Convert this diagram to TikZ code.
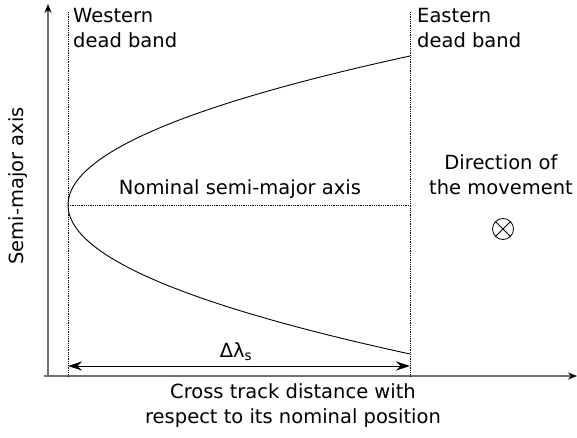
\documentclass[tikz,border=0pt]{standalone}
\usepackage{fontspec}
\setmainfont{DejaVu Sans}
\usepackage{xcolor}
\usepackage{tikz}
\usetikzlibrary{arrows.meta,positioning,calc}
\definecolor{axisgray}{HTML}{707070}
\tikzset{
  axisline/.style={draw=axisgray,line width=1.6pt,-{Stealth[length=9pt,width=7pt,color=black]}},
  bandline/.style={draw=black,densely dotted,line width=0.8pt},
  orbitline/.style={draw=black,line width=0.9pt},
  spanarrow/.style={draw=black,line width=1pt,{Stealth[length=14pt,width=9pt]}-{Stealth[length=14pt,width=9pt]}},
  plainlabel/.style={font=\fontsize{19.5}{25}\selectfont,inner sep=0pt,align=center}
}
\begin{document}
\begin{tikzpicture}[x=1pt,y=-1pt]
\useasboundingbox (0,0) rectangle (577,438);
% axes
\coordinate (orig) at (48,376);
\coordinate (ytop) at (48,4);
\coordinate (xstart) at (44,376);
\coordinate (xend) at (577,376);
\draw[axisline] (orig) -- (ytop);
\draw[axisline] (xstart) -- (xend);
% dead band limits
\coordinate (wtop) at (68,12);
\coordinate (wbot) at (68,376);
\coordinate (etop) at (410,12);
\coordinate (ebot) at (410,376);
\draw[bandline] (wtop) -- (wbot);
\draw[bandline] (etop) -- (ebot);
% semi-major axis evolution
\coordinate (vertex) at (68,205);
\coordinate (nomend) at (410,205);
\draw[orbitline] plot[domain=-149:149,samples=80,smooth] ({68+342*(\x/149)*(\x/149)},{205+\x});
\draw[bandline] (vertex) -- (nomend);
\node[plainlabel,anchor=base] (nomlabel) at (240,195) {Nominal semi-major axis};
% drift span
\coordinate (spanw) at (68,366);
\coordinate (spane) at (410,366);
\draw[spanarrow] (spanw) -- (spane);
\node[plainlabel,anchor=base] (dlabel) at (236,357) {Δλ\textsubscript{s}};
% band labels
\node[plainlabel,align=left,anchor=north west] (wlabel) at (73,8) {Western\\dead band};
\node[plainlabel,align=left,anchor=north west] (elabel) at (417,8) {Eastern\\dead band};
% movement direction
\node[plainlabel] (dirlabel) at (501,175) {Direction of\\the movement};
\node[draw,circle,line width=0.8pt,minimum size=21pt,inner sep=0pt] (dirmark) at (503,229) {};
\draw[line width=0.8pt] (dirmark.45) -- (dirmark.225);
\draw[line width=0.8pt] (dirmark.135) -- (dirmark.315);
% axis titles
\node[plainlabel,rotate=90] (ylabel) at (18,186) {Semi-major axis};
\node[plainlabel] (xlabel) at (293,406) {Cross track distance with\\respect to its nominal position};
\end{tikzpicture}
\end{document}
